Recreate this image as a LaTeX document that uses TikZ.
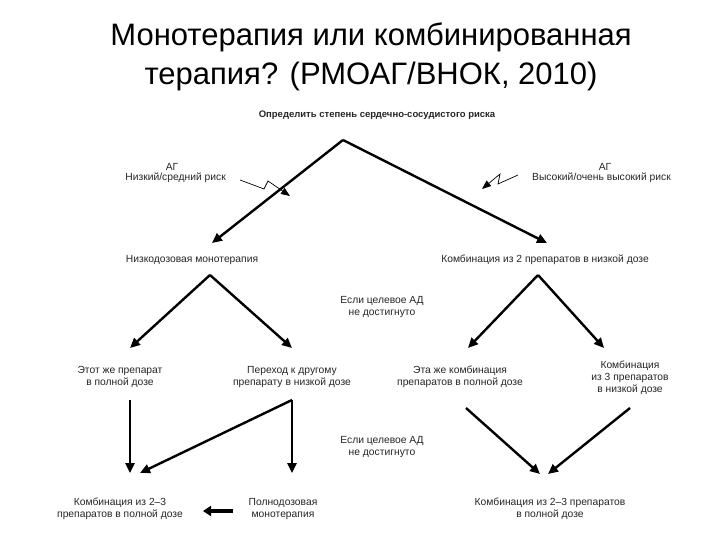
\documentclass[tikz,border=0pt]{standalone}
\usepackage{fontspec}
\setmainfont{Liberation Sans}
\usetikzlibrary{arrows.meta}
\begin{document}
\begin{tikzpicture}[x=1pt,y=-1pt,
  lbl/.style={font=\fontsize{10.3}{12}\selectfont,align=center,text=black!85,inner sep=0pt},
  arr/.style={line width=2.4pt,-{Triangle[length=10pt,width=9pt]}},
  zig/.style={line width=0.7pt,-{Triangle[length=9pt,width=7pt]}}]
\useasboundingbox[fill=white] (0,0) rectangle (720,540);
\node[font=\fontsize{31}{39}\selectfont,align=center] (title) at (371,57) {Монотерапия или комбинированная\\терапия? (РМОАГ/ВНОК, 2010)};
\node[lbl,font=\fontsize{9.5}{11}\selectfont\bfseries] (top) at (377,115) {Определить степень сердечно-сосудистого риска};
\coordinate (apex) at (343,140);
\coordinate (lend) at (212,243);
\coordinate (rend) at (547,243);
\draw[arr] (apex) -- (lend);
\draw[arr] (apex) -- (rend);
\node[lbl] (ag1) at (172,167) {АГ};
\node[lbl,anchor=east] (lr) at (226,178) {Низкий/средний риск};
\node[lbl] (ag2) at (605,167) {АГ};
\node[lbl,anchor=west] (hr) at (532,178) {Высокий/очень высокий риск};
\coordinate (z1) at (240,180);
\coordinate (z2) at (264,189);
\coordinate (z3) at (268,181);
\coordinate (z4) at (290,196);
\draw[zig] (z1) -- (z2) -- (z3) -- (z4);
\coordinate (y1) at (518,175);
\coordinate (y2) at (498,184);
\coordinate (y3) at (500,174);
\coordinate (y4) at (482,189);
\draw[zig] (y1) -- (y2) -- (y3) -- (y4);
\node[lbl] (mono) at (192,260) {Низкодозовая монотерапия};
\node[lbl] (comb2) at (545,260) {Комбинация из 2 препаратов в низкой дозе};
\coordinate (la) at (210,275);
\coordinate (ra) at (538,275);
\coordinate (e1) at (130,348);
\coordinate (e2) at (292,348);
\coordinate (e3) at (468,348);
\coordinate (e4) at (604,348);
\draw[arr] (la) -- (e1);
\draw[arr] (la) -- (e2);
\draw[arr] (ra) -- (e3);
\draw[arr] (ra) -- (e4);
\node[lbl] (if1) at (382,307) {Если целевое АД\\не достигнуто};
\node[lbl] (s1) at (120,377) {Этот же препарат\\в полной дозе};
\node[lbl] (s2) at (292,377) {Переход к другому\\препарату в низкой дозе};
\node[lbl] (s3) at (460,377) {Эта же комбинация\\препаратов в полной дозе};
\node[lbl] (s4) at (630,378) {Комбинация\\из 3 препаратов\\в низкой дозе};
\node[lbl] (if2) at (382,447) {Если целевое АД\\не достигнуто};
\coordinate (b1s) at (130,400);
\coordinate (b1e) at (130,473);
\coordinate (b2s) at (292,400);
\coordinate (b2d) at (140,473);
\coordinate (b2e) at (292,473);
\coordinate (b3s) at (466,408);
\coordinate (b3e) at (540,474);
\coordinate (b4s) at (630,408);
\coordinate (b4e) at (548,474);
\draw[arr] (b1s) -- (b1e);
\draw[arr] (b2s) -- (b2d);
\draw[arr] (b2s) -- (b2e);
\draw[arr] (b3s) -- (b3e);
\draw[arr] (b4s) -- (b4e);
\node[lbl] (f1) at (120,509) {Комбинация из 2--3\\препаратов в полной дозе};
\node[lbl] (f2) at (283,509) {Полнодозовая\\монотерапия};
\node[lbl] (f3) at (550,509) {Комбинация из 2--3 препаратов\\в полной дозе};
\coordinate (fa) at (233,511);
\coordinate (fb) at (203,511);
\draw[line width=3.2pt,-{Triangle[length=8pt,width=10pt]}] (fa) -- (fb);
\end{tikzpicture}
\end{document}
